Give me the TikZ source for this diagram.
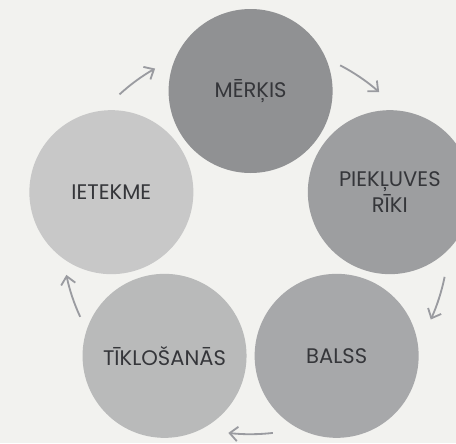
\documentclass[tikz,border=0pt]{standalone}
\usepackage{fontspec}
\setmainfont{Poppins}
\usepackage{tikz}
\usetikzlibrary{arrows.meta,positioning}
\definecolor{hatter}{HTML}{F2F2EF}
\definecolor{korA}{HTML}{909193}
\definecolor{korB}{HTML}{9D9EA0}
\definecolor{korC}{HTML}{A7A8AA}
\definecolor{korD}{HTML}{B9BABA}
\definecolor{korE}{HTML}{C8C8C8}
\definecolor{szoveg}{HTML}{35363A}
\definecolor{nyilszin}{HTML}{9A9BA0}
\tikzset{
  kor/.style={circle,inner sep=0pt,minimum size=4.1cm,align=center,
    text=szoveg,font=\fontsize{15}{18.5}\selectfont},
  nyil/.style={-{Straight Barb[length=2mm,width=3.6mm]},line width=1.3pt,
    draw=nyilszin},
}
\begin{document}
\begin{tikzpicture}
  \fill[hatter] (-6.265,-5.14) rectangle (5.135,5.935);
  \useasboundingbox (-6.265,-5.14) rectangle (5.135,5.935);
  % the five circles
  \node[kor,fill=korA] (merkis) at (90:3.66) {MĒRĶIS};
  \node[kor,fill=korB] (riki) at (18:3.66) {PIEKĻUVES\\RĪKI};
  \node[kor,fill=korC] (balss) at (-54:3.66) {BALSS};
  \node[kor,fill=korD] (tiklo) at (-126:3.66) {TĪKLOŠANĀS};
  \node[kor,fill=korE] (ietekme) at (162:3.66) {IETEKME};
  % arrows between them
  \draw[nyil] (132.5:4.85) arc[start angle=132.5,end angle=119.5,radius=4.85];
  \draw[nyil] (62.5:4.85) arc[start angle=62.5,end angle=48.5,radius=4.85];
  \draw[nyil] (-11.5:4.95) arc[start angle=-11.5,end angle=-24.5,radius=4.95];
  \draw[nyil] (-83.5:4.92) arc[start angle=-83.5,end angle=-96.5,radius=4.92];
  \draw[nyil] (-155:4.7) arc[start angle=-155,end angle=-168.5,radius=4.7];
\end{tikzpicture}
\end{document}
